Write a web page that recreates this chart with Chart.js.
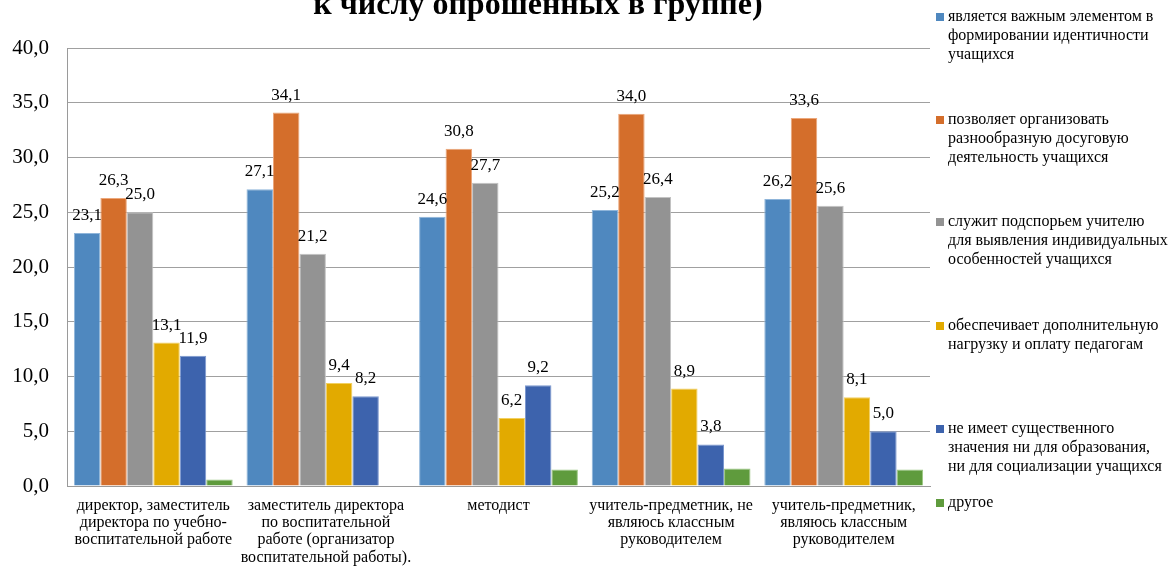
<!DOCTYPE html>
<html><head><meta charset="utf-8">
<script src="https://cdn.jsdelivr.net/npm/chart.js@4.4.1/dist/chart.umd.min.js"></script>
<style>html,body{margin:0;padding:0;background:#fff}#wrap{width:1168px;height:568px}</style>
</head><body><div id="wrap"><canvas id="c" width="1168" height="568"></canvas></div>
<script>
const titleText = "к числу опрошенных в группе)";
const categories = [
  ["директор, заместитель", "директора по учебно-", "воспитательной работе"],
  ["заместитель директора", "по воспитательной", "работе (организатор", "воспитательной работы)."],
  ["методист"],
  ["учитель-предметник, не", "являюсь классным", "руководителем"],
  ["учитель-предметник,", "являюсь классным", "руководителем"]
];
const seriesNames = [
  ["является важным элементом в", "формировании идентичности", "учащихся"],
  ["позволяет организовать", "разнообразную досуговую", "деятельность учащихся"],
  ["служит подспорьем учителю", "для выявления индивидуальных", "особенностей учащихся"],
  ["обеспечивает дополнительную", "нагрузку и оплату педагогам"],
  ["не имеет существенного", "значения ни для образования,", "ни для социализации учащихся"],
  ["другое"]
];
const identity = [23.1, 27.1, 24.6, 25.2, 26.2];
const leisure = [26.3, 34.1, 30.8, 34.0, 33.6];
const support = [25.0, 21.2, 27.7, 26.4, 25.6];
const payment = [13.1, 9.4, 6.2, 8.9, 8.1];
const noValue = [11.9, 8.2, 9.2, 3.8, 5.0];
const other = [0.6, 0, 1.5, 1.6, 1.5];
const showLabels = [true, true, true, true, true, false];
const colors = ["#4f88bf", "#d46e2b", "#939393", "#e2aa00", "#3d63ad", "#5f9b3d"];
const borders = ["#8fb5da", "#eca77a", "#c3c3c3", "#f2d060", "#7c98cf", "#9cc784"];
const serif = "'Liberation Serif', 'Times New Roman', serif";

const fmt = v => v.toFixed(1).replace('.', ',');

const datasets = [identity, leisure, support, payment, noValue, other].map((d, i) => ({
  label: seriesNames[i].join(' '),
  data: d,
  backgroundColor: colors[i],
  borderColor: borders[i],
  borderWidth: 1,
  categoryPercentage: 0.92,
  barPercentage: 1.0
}));

const labelsPlugin = {
  id: 'valueLabels',
  afterDatasetsDraw(chart) {
    const ctx = chart.ctx;
    ctx.save();
    ctx.font = "17px " + serif;
    ctx.fillStyle = "#000";
    ctx.textAlign = "center";
    ctx.textBaseline = "alphabetic";
    chart.data.datasets.forEach((ds, i) => {
      if (!showLabels[i]) return;
      const meta = chart.getDatasetMeta(i);
      meta.data.forEach((bar, j) => {
        ctx.fillText(fmt(ds.data[j]), bar.x, bar.y - 13);
      });
    });
    ctx.restore();
  }
};

const legendPlugin = {
  id: 'sideLegend',
  afterDraw(chart) {
    const ctx = chart.ctx;
    ctx.save();
    ctx.font = "16px " + serif;
    ctx.textBaseline = "middle";
    ctx.textAlign = "left";
    const tops = [17, 120, 222, 326, 429, 503];
    seriesNames.forEach((lines, i) => {
      const y0 = tops[i];
      ctx.fillStyle = colors[i];
      ctx.fillRect(936, y0 - 4, 8, 8);
      ctx.fillStyle = "#000";
      lines.forEach((t, k) => ctx.fillText(t, 948, y0 + k * 19));
    });
    ctx.restore();
  }
};

const titlePlugin = {
  id: 'cutTitle',
  afterDraw(chart) {
    const ctx = chart.ctx;
    ctx.save();
    ctx.font = "bold 32px " + serif;
    ctx.fillStyle = "#000";
    ctx.textAlign = "center";
    ctx.textBaseline = "alphabetic";
    ctx.fillText(titleText, 538, 14);
    ctx.restore();
  }
};

new Chart(document.getElementById('c'), {
  type: 'bar',
  data: { labels: categories, datasets },
  options: {
    responsive: false,
    animation: false,
    layout: { padding: { top: 48, right: 238, left: 0, bottom: 0 } },
    plugins: { legend: { display: false }, title: { display: false }, tooltip: { enabled: false } },
    scales: {
      x: {
        grid: { display: false },
        border: { display: true, color: "#9a9a9a", width: 1 },
        ticks: {
          font: { family: serif, size: 16, lineHeight: 1.08 },
          color: "#000",
          maxRotation: 0,
          autoSkip: false,
          padding: 3
        },
        afterFit(s) { s.height = 82; }
      },
      y: {
        min: 0, max: 40,
        ticks: {
          stepSize: 5,
          font: { family: serif, size: 21 },
          color: "#000",
          padding: 18,
          callback: v => fmt(v)
        },
        grid: { color: "#a0a0a0", lineWidth: 1, drawTicks: false },
        border: { display: true, color: "#9a9a9a", width: 1 },
        afterFit(s) { s.width = 67; }
      }
    }
  },
  plugins: [labelsPlugin, legendPlugin, titlePlugin]
});
</script>
</body></html>
